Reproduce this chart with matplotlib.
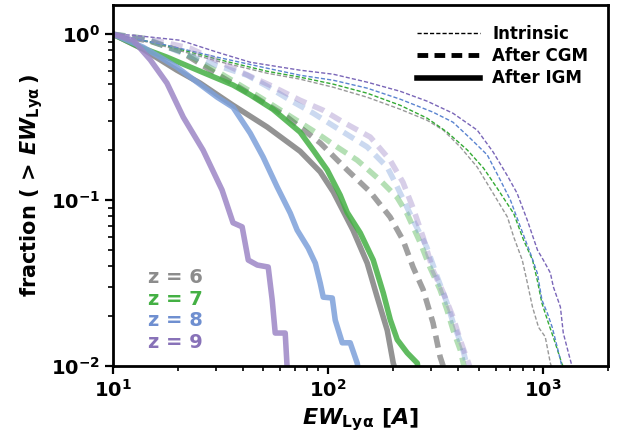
import math
import matplotlib
matplotlib.use('Agg')
import matplotlib.pyplot as plt
from matplotlib.ticker import FuncFormatter

plt.rcParams['font.family'] = 'DejaVu Sans'
plt.rcParams['font.weight'] = 'bold'
plt.rcParams['axes.labelweight'] = 'bold'
plt.rcParams['mathtext.fontset'] = 'dejavusans'
plt.rcParams['mathtext.default'] = 'bf'

# cumulative EW distributions, z = 6..9
ew_int_6 = [10, 16.0, 30.5, 52.0, 74.0, 105.6, 151.8, 216, 288, 343, 411, 493, 584, 681, 728, 798, 843, 890, 950, 1020, 1055, 1078, 1090]
fr_int_6 = [1.0, 0.870, 0.688, 0.582, 0.536, 0.479, 0.417, 0.353, 0.303, 0.264, 0.209, 0.158, 0.110, 0.079, 0.060, 0.0435, 0.0316, 0.0227, 0.0171, 0.015, 0.0120, 0.0104, 0.0099]
ew_int_7 = [10, 16.0, 30.5, 52.0, 74.0, 105.6, 151.8, 216, 288, 357, 444, 527, 610, 728, 809, 891, 937, 985, 1055, 1135, 1220, 1240]
fr_int_7 = [1.0, 0.883, 0.707, 0.598, 0.551, 0.500, 0.441, 0.373, 0.312, 0.257, 0.200, 0.156, 0.118, 0.083, 0.0575, 0.0435, 0.0329, 0.0239, 0.0182, 0.0138, 0.0103, 0.0099]
ew_int_8 = [10, 17.8, 30.5, 52.0, 74.0, 105.6, 151.8, 216, 307, 380, 457, 549, 631, 703, 782, 870, 937, 985, 1044, 1100, 1160, 1200, 1220]
fr_int_8 = [1.0, 0.858, 0.727, 0.624, 0.566, 0.528, 0.473, 0.406, 0.339, 0.295, 0.236, 0.187, 0.132, 0.100, 0.069, 0.0479, 0.0364, 0.025, 0.0208, 0.0171, 0.0130, 0.0109, 0.0099]
ew_int_9 = [10, 12.4, 20.5, 30.5, 43.4, 74.0, 105.6, 151.8, 216, 288, 380, 493, 584, 681, 755, 842, 939, 1000, 1078, 1113, 1200, 1238, 1308, 1361]
fr_int_9 = [1.0, 0.986, 0.920, 0.779, 0.678, 0.607, 0.574, 0.514, 0.453, 0.395, 0.334, 0.264, 0.195, 0.140, 0.110, 0.0757, 0.050, 0.0435, 0.0364, 0.030, 0.0227, 0.0158, 0.0120, 0.0099]

ew_cgm_6 = [10, 14.9, 20.5, 27.4, 42.0, 64.5, 91.8, 122.5, 156.8, 194, 222.6, 248, 276, 307, 331, 343]
fr_cgm_6 = [1.0, 0.907, 0.790, 0.624, 0.447, 0.316, 0.221, 0.152, 0.112, 0.079, 0.0574, 0.0394, 0.0289, 0.0182, 0.0114, 0.0099]
ew_cgm_7 = [10, 13.8, 21.2, 31.5, 48.2, 68.7, 88.7, 110, 136.4, 174, 209, 233, 268, 297, 331, 357, 381, 411, 428]
fr_cgm_7 = [1.0, 0.946, 0.779, 0.582, 0.417, 0.312, 0.253, 0.209, 0.174, 0.132, 0.104, 0.0824, 0.0553, 0.0394, 0.0289, 0.0217, 0.0164, 0.0125, 0.0099]
ew_cgm_8 = [10, 14.9, 20.5, 28.3, 42.0, 52.0, 66.6, 85.2, 113.7, 151.8, 188, 205, 248, 287, 321, 357, 381, 419, 443]
fr_cgm_8 = [1.0, 0.920, 0.779, 0.669, 0.566, 0.486, 0.400, 0.334, 0.264, 0.209, 0.158, 0.127, 0.0759, 0.0521, 0.0345, 0.0239, 0.0182, 0.0131, 0.0099]
ew_cgm_9 = [10, 14.9, 22.8, 31.5, 43.4, 53.6, 74.0, 94.8, 117.4, 156.8, 194, 222.6, 248, 276, 307, 343, 381, 411, 455]
fr_cgm_9 = [1.0, 0.933, 0.823, 0.678, 0.558, 0.493, 0.400, 0.348, 0.295, 0.240, 0.174, 0.128, 0.0895, 0.0599, 0.0377, 0.0276, 0.0196, 0.0143, 0.0099]

ew_igm_6 = [10, 13.8, 19.8, 25.4, 36.1, 52.0, 74.0, 91.8, 105.6, 130.3, 151.8, 168.9, 188.1, 200.6, 205]
fr_igm_6 = [1.0, 0.812, 0.607, 0.507, 0.373, 0.276, 0.197, 0.148, 0.112, 0.066, 0.0417, 0.026, 0.0164, 0.0104, 0.0095]
ew_igm_7 = [10, 13.35, 17.8, 25.4, 36.1, 43.4, 55.3, 74.0, 85.2, 98.9, 113.7, 122.5, 140.9, 161.9, 180.2, 194.3, 209.4, 232.9, 259.4, 262]
fr_igm_7 = [1.0, 0.835, 0.727, 0.598, 0.494, 0.431, 0.353, 0.257, 0.200, 0.152, 0.107, 0.0843, 0.0634, 0.0435, 0.0276, 0.019, 0.0144, 0.012, 0.0104, 0.0095]
ew_igm_8 = [10, 13.8, 19.8, 30.5, 36.1, 43.4, 49.8, 57.9, 66.6, 71.7, 80.7, 87.1, 91.8, 94.8, 104.4, 107.8, 116.2, 126.5, 136.4, 138]
fr_igm_8 = [1.0, 0.835, 0.633, 0.417, 0.363, 0.253, 0.182, 0.120, 0.0835, 0.066, 0.0514, 0.0417, 0.0316, 0.026, 0.0257, 0.0189, 0.0138, 0.0138, 0.0104, 0.0095]
ew_igm_9 = [10, 12.4, 14.9, 17.8, 21.2, 26.2, 32.1, 36.1, 39.8, 42.5, 46.8, 52.6, 54.9, 56.7, 63.1, 64.5]
fr_igm_9 = [1.0, 0.92, 0.70, 0.507, 0.316, 0.20, 0.115, 0.073, 0.069, 0.0435, 0.0406, 0.0395, 0.025, 0.0158, 0.0158, 0.0095]

redshifts = [6, 7, 8, 9]
int_colors = ['#999999', '#33aa33', '#5a84d0', '#7a66b8']
line_colors = ['#808080', '#44b044', '#7da0da', '#9c86c6']
cgm_alpha = [0.75, 0.4, 0.4, 0.4]
text_colors = ['#8c8c8c', '#44b044', '#6f8fd0', '#8872b8']

intrinsic = [(ew_int_6, fr_int_6), (ew_int_7, fr_int_7), (ew_int_8, fr_int_8), (ew_int_9, fr_int_9)]
after_cgm = [(ew_cgm_6, fr_cgm_6), (ew_cgm_7, fr_cgm_7), (ew_cgm_8, fr_cgm_8), (ew_cgm_9, fr_cgm_9)]
after_igm = [(ew_igm_6, fr_igm_6), (ew_igm_7, fr_igm_7), (ew_igm_8, fr_igm_8), (ew_igm_9, fr_igm_9)]

fig = plt.figure(figsize=(6.18, 4.37), dpi=100)
ax = fig.add_axes([0.183, 0.1625, 0.801, 0.826])

for i in range(4):
    ax.plot(*intrinsic[i], color=int_colors[i], lw=1.0, dashes=(3, 1.5))
    ax.plot(*after_cgm[i], color=line_colors[i], lw=4, alpha=cgm_alpha[i], dashes=(2.2, 1.3))
    ax.plot(*after_igm[i], color=line_colors[i], lw=4, alpha=0.85)

ax.set_xscale('log')
ax.set_yscale('log')
ax.set_xlim(10, 2000)
ax.set_ylim(0.01, 1.5)

# bold powers of ten on both axes
pow10 = FuncFormatter(lambda v, pos: r'$\mathbf{10^{%d}}$' % round(math.log10(v)))
ax.xaxis.set_major_formatter(pow10)
ax.yaxis.set_major_formatter(pow10)

for s in ax.spines.values():
    s.set_linewidth(2)
ax.tick_params(which='major', length=6, width=1.6, labelsize=14)
ax.tick_params(which='minor', length=3.5, width=1.2)

ax.set_xlabel(r'$\mathbfit{EW}_{\mathbf{Ly\alpha}}\ \mathbf{[}\mathbfit{A}\mathbf{]}$', fontsize=16)
ax.set_ylabel(r'fraction $\mathbf{(\,>\,}\mathbfit{EW}_{\mathbf{Ly\alpha}}\mathbf{\,)}$', fontsize=15)

for i, z in enumerate(redshifts):
    ax.text(0.07, 0.23 - i * 0.06, f'z = {z}', transform=ax.transAxes,
            color=text_colors[i], fontsize=14, fontweight='bold')

h1, = ax.plot([], [], color='k', lw=1.0, dashes=(3, 1.5))
h2, = ax.plot([], [], color='k', lw=3.5, dashes=(2.2, 1.3))
h3, = ax.plot([], [], color='k', lw=4)
ax.legend([h1, h2, h3], ['Intrinsic', 'After CGM', 'After IGM'], loc='upper right',
          frameon=False, handlelength=3.8, handletextpad=0.7, borderaxespad=0.8,
          labelspacing=0.25, prop={'weight': 'bold', 'size': 12})

fig.savefig('out.png', dpi=100)
